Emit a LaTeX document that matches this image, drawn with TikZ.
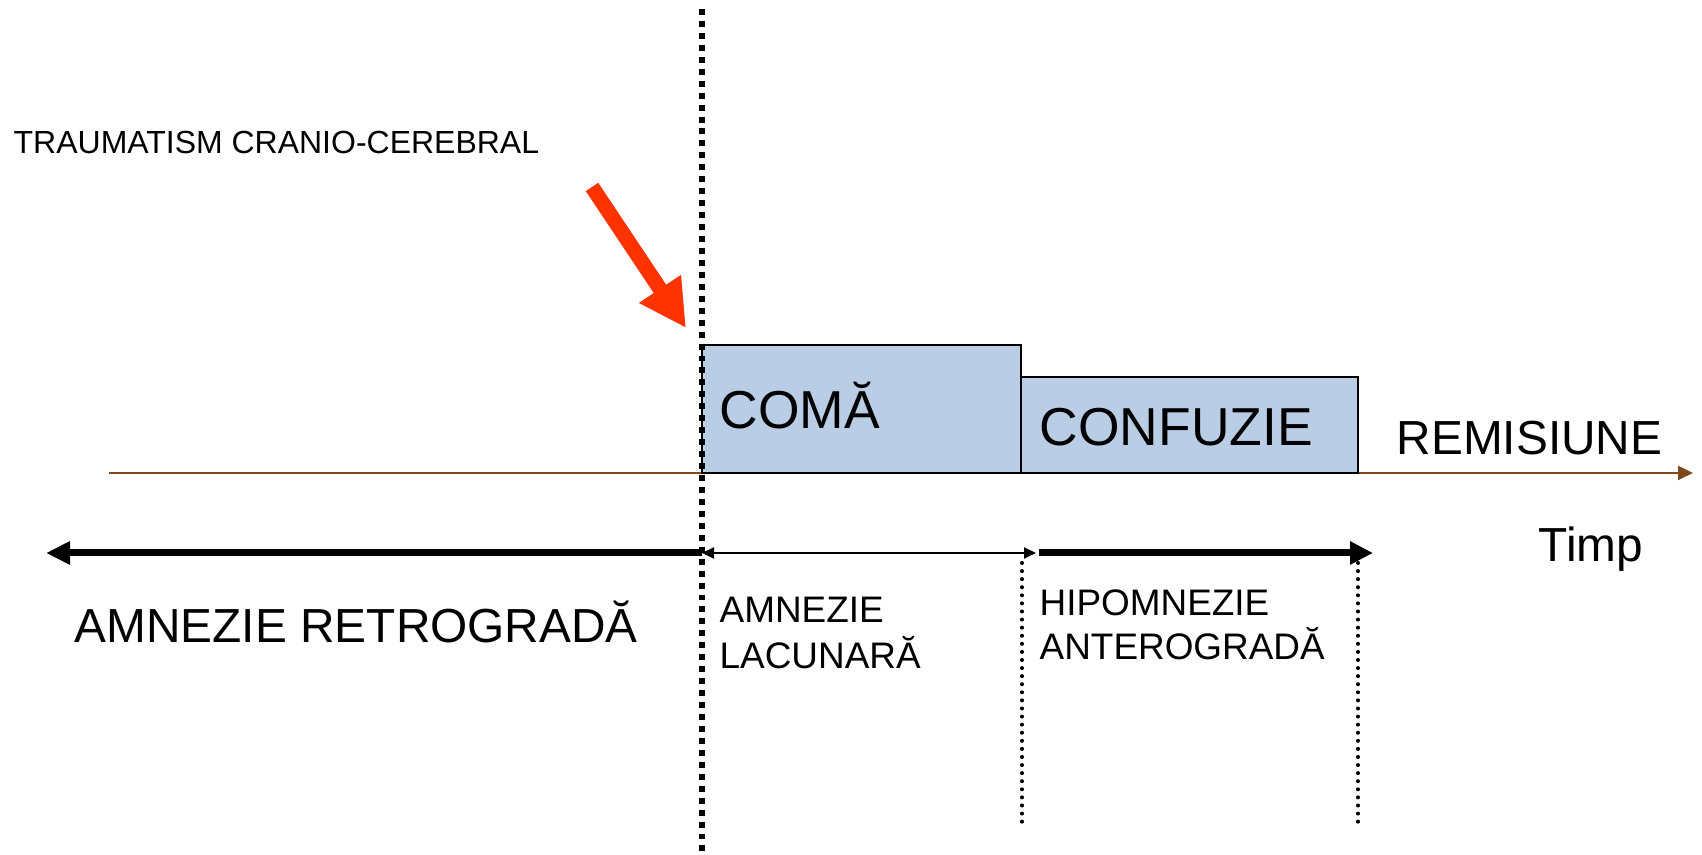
\documentclass[tikz,border=0pt]{standalone}
\usepackage{fontspec}
\setmainfont{Liberation Sans}
\usepackage{xcolor}
\usetikzlibrary{arrows.meta}
\definecolor{phaseblue}{RGB}{185,205,229}
\definecolor{hitred}{RGB}{255,51,0}
\definecolor{axisbrown}{RGB}{125,72,28}

\begin{document}
\begin{tikzpicture}[
    txt/.style={inner sep=0pt, anchor=base west},
    phase/.style={draw=black, line width=0.6pt, fill=phaseblue},
    dotline/.style={line width=1.15pt, line cap=round, dash pattern=on 0pt off 2.3pt}
]
    \useasboundingbox (0,0) rectangle (17.02,8.55);

    % Time axis
    \coordinate (start) at (1.09,3.82);
    \coordinate (end) at (16.93,3.82);
    \draw[axisbrown, line width=0.6pt, -{Triangle[length=1.5mm, width=1.4mm]}] (start) -- (end);

    % Phases
    \draw[phase] (7.02,3.82) rectangle (10.21,5.10);
    \draw[phase] (10.21,3.82) rectangle (13.58,4.78);

    % Moment of the trauma
    \coordinate (top) at (7.02,8.46);
    \coordinate (bottom) at (7.02,0);
    \draw[line width=1.7pt, dash pattern=on 1.7pt off 1.7pt] (top) -- (bottom);
    \coordinate (tail) at (5.92,6.68);
    \coordinate (hit) at (6.86,5.27);
    \draw[hitred, line width=1.5mm, -{Triangle[length=4.7mm, width=4.7mm]}] (tail) -- (hit);

    % Ends of the phases
    \coordinate (comaEnd) at (10.22,2.92);
    \coordinate (comaLow) at (10.22,0.32);
    \coordinate (confEnd) at (13.58,2.92);
    \coordinate (confLow) at (13.58,0.32);
    \draw[dotline] (comaEnd) -- (comaLow);
    \draw[dotline] (confEnd) -- (confLow);

    % Amnesia spans
    \coordinate (now) at (7.02,3.02);
    \coordinate (past) at (0.46,3.02);
    \coordinate (lacEnd) at (10.36,3.02);
    \coordinate (antStart) at (10.39,3.02);
    \coordinate (antEnd) at (13.73,3.02);
    \draw[line width=2pt, -{Triangle[length=2.4mm, width=2.2mm]}] (now) -- (past);
    \draw[line width=0.55pt, {Triangle[length=1.2mm, width=1.1mm]}-{Triangle[length=1.2mm, width=1.1mm]}] (now) -- (lacEnd);
    \draw[line width=2pt, -{Triangle[length=2.3mm, width=2.2mm]}] (antStart) -- (antEnd);

    % Labels
    \node[txt, font=\fontsize{9.1}{11}\selectfont] (trauma) at (0.13,7.015) {TRAUMATISM CRANIO-CEREBRAL};
    \node[txt, font=\fontsize{15.2}{18}\selectfont] (coma) at (7.19,4.26) {COMĂ};
    \node[txt, font=\fontsize{15.2}{18}\selectfont] (confuzie) at (10.39,4.09) {CONFUZIE};
    \node[txt, font=\fontsize{13.6}{16}\selectfont] (remisiune) at (13.96,4.005) {REMISIUNE};
    \node[txt, font=\fontsize{13.6}{16}\selectfont] (timp) at (15.38,2.93) {Timp};
    \node[txt, font=\fontsize{13.6}{16}\selectfont] (retro) at (0.74,2.12) {AMNEZIE RETROGRADĂ};
    \node[txt, align=left, font=\fontsize{10.5}{13.1}\selectfont] (lacunara) at (7.19,1.86) {AMNEZIE\\LACUNARĂ};
    \node[txt, align=left, font=\fontsize{10.5}{12.8}\selectfont] (antero) at (10.39,1.95) {HIPOMNEZIE\\ANTEROGRADĂ};
\end{tikzpicture}
\end{document}
